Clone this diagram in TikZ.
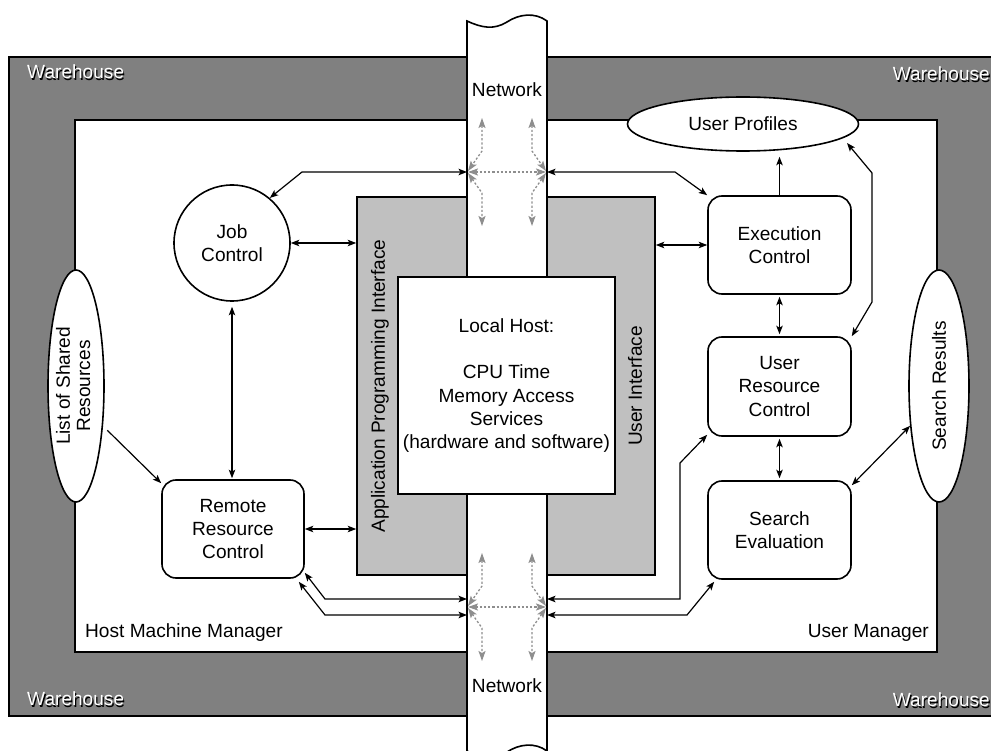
\documentclass[tikz,border=0pt]{standalone}
\usepackage{fontspec}
\setmainfont{Liberation Sans}
\usetikzlibrary{arrows.meta,shapes.geometric}
\definecolor{darkgr}{HTML}{808080}
\definecolor{lightgr}{HTML}{C0C0C0}
\definecolor{dashgr}{HTML}{8E8E8E}
\begin{document}
\begin{tikzpicture}[x=1pt,y=-1pt,
  font=\fontsize{19.1}{23.3}\selectfont,
  border/.style={draw=black,line width=1.6pt},
  box/.style={border,fill=white,rounded corners=14pt,minimum width=143pt,minimum height=98pt,align=center,inner sep=0pt},
  oval/.style={ellipse,border,fill=white,inner sep=0pt},
  tip/.tip={Stealth[length=8.5pt,width=6.5pt,inset=2pt]},
  gtip/.tip={Stealth[length=10pt,width=7pt,inset=2pt]},
  conn/.style={line width=1.2pt,tip-tip},
  conn1/.style={line width=1.2pt,-tip},
  net/.style={dashgr,line width=1.3pt,dash pattern=on 2.2pt off 2pt,gtip-gtip},
  whtext/.style={text=white,inner sep=0pt},
  whshadow/.style={text=black,inner sep=0pt}
]
\useasboundingbox (0,0) rectangle (991,751);
% warehouse and managers
\fill[darkgr] (9,57) rectangle (995,716);
\draw[border] (995,57) -- (9,57) -- (9,716) -- (995,716);
\draw[border,fill=white] (75,120) rectangle (937,652);
% interfaces
\node[draw=black,line width=1.6pt,fill=lightgr,minimum width=298pt,minimum height=378pt,inner sep=0pt] (api) at (506,386) {};
% network band
\draw[border,fill=white] (467,21) .. controls (482,28) and (494,30) .. (507,22) .. controls (519,14) and (535,12) .. (547,21) -- (547,751) .. controls (535,742) and (519,744) .. (507,752) .. controls (494,760) and (482,758) .. (467,751) -- cycle;
% local host
\node[border,fill=white,minimum width=217pt,minimum height=217pt,inner sep=0pt,align=center] (lh) at (506.5,385.5)
  {Local Host:\\[23.3pt]CPU Time\\Memory Access\\Services\\(hardware and software)};
\node[rotate=90] (apit) at (380,386) {Application Programming Interface};
\node[rotate=90] (uit) at (635,386) {User Interface};
% ellipses
\node[oval,minimum width=56pt,minimum height=232pt] (lsr) at (76,386)
  {\makebox[0pt]{\rotatebox{90}{\renewcommand\arraystretch{0.86}\begin{tabular}{@{}c@{}}List of Shared\\Resources\end{tabular}}}};
\node[oval,minimum width=60pt,minimum height=232pt] (sr) at (939,386)
  {\makebox[0pt]{\rotatebox{90}{Search Results}}};
\node[oval,minimum width=231pt,minimum height=54pt] (up) at (743,124) {User Profiles};
% process nodes
\node[border,fill=white,circle,minimum size=116pt,inner sep=0pt,align=center] (jc) at (232,243) {Job\\Control};
\node[box,minimum width=142pt] (rrc) at (233,529) {Remote\\Resource\\Control};
\node[box] (ec) at (779.5,245) {Execution\\Control};
\node[box,minimum height=99pt] (urc) at (779.5,386.5) {User\\Resource\\Control};
\node[box] (se) at (779.5,530) {Search\\Evaluation};
% labels
\node[anchor=west,inner sep=0pt] (hmm) at (85,633) {Host Machine Manager};
\node[anchor=east,inner sep=0pt] (um) at (929,633) {User Manager};
\node (net1) at (507,90) {Network};
\node (net2) at (507,686) {Network};
\node[whshadow,anchor=west] (wsha) at (28.2,73.2) {Warehouse};
\node[whtext,anchor=west] (wha) at (27,72) {Warehouse};
\node[whshadow,anchor=east] (wshb) at (991.2,75.2) {Warehouse};
\node[whtext,anchor=east] (whb) at (990,74) {Warehouse};
\node[whshadow,anchor=west] (wshc) at (28.2,700.2) {Warehouse};
\node[whtext,anchor=west] (whc) at (27,699) {Warehouse};
\node[whshadow,anchor=east] (wshd) at (991.2,701.2) {Warehouse};
\node[whtext,anchor=east] (whd) at (990,700) {Warehouse};
% network junction coordinates
\coordinate (nTL) at (467,172);
\coordinate (nTR) at (547,172);
\coordinate (nBL1) at (467,599);
\coordinate (nBL2) at (467,615);
\coordinate (nBR1) at (547,599);
\coordinate (nBR2) at (547,615);
\coordinate (upin) at (847,143);
% network dashed arrows
\foreach \y in {172,607}{
  \draw[net] (468,\y) -- (546,\y);
  \draw[net] (482,\y-54) -- (482,\y-21) -- (468,\y-1);
  \draw[net] (468,\y+1) -- (482,\y+21) -- (482,\y+54);
  \draw[net] (532,\y-54) -- (532,\y-21) -- (546,\y-1);
  \draw[net] (546,\y+1) -- (532,\y+21) -- (532,\y+54);
}
% connectors
\draw[conn] (jc.50) -- (302,172) -- (nTL);
\draw[conn] (nTR) -- (675,172) -- (ec.north west);
\draw[conn] (jc.east) -- (jc.east -| api.west);
\draw[conn] (ec.west) -- (ec.west -| api.east);
\draw[conn1,shorten >=5pt] (ec.north) -- (ec.north |- up.south);
\draw[conn] (urc.north east) -- (872,302) -- (872,173) -- (upin);
\draw[conn,shorten >=2pt,shorten <=2pt] (ec.south) -- (urc.north);
\draw[conn,shorten >=2pt,shorten <=2pt] (urc.south) -- (se.north);
\draw[conn] ([yshift=-5pt]se.north east) -- (sr.234);
\draw[conn,shorten <=5pt,shorten >=1pt] (jc.south) -- (jc.south |- rrc.north);
\draw[conn1,shorten <=6pt] (lsr.-56) -- ([yshift=-4pt]rrc.north west);
\draw[conn] (rrc.east) -- (rrc.east -| api.west);
\draw[conn] ([yshift=6pt]rrc.south east) -- (325,599) -- (nBL1);
\draw[conn] ([xshift=-6pt,yshift=-3pt]rrc.south east) -- (325,615) -- (nBL2);
\draw[conn] (nBR1) -- (680,599) -- (680,463) -- ([yshift=2pt]urc.south west);
\draw[conn] (nBR2) -- (687,615) -- ([xshift=7pt,yshift=-2pt]se.south west);
\end{tikzpicture}
\end{document}
